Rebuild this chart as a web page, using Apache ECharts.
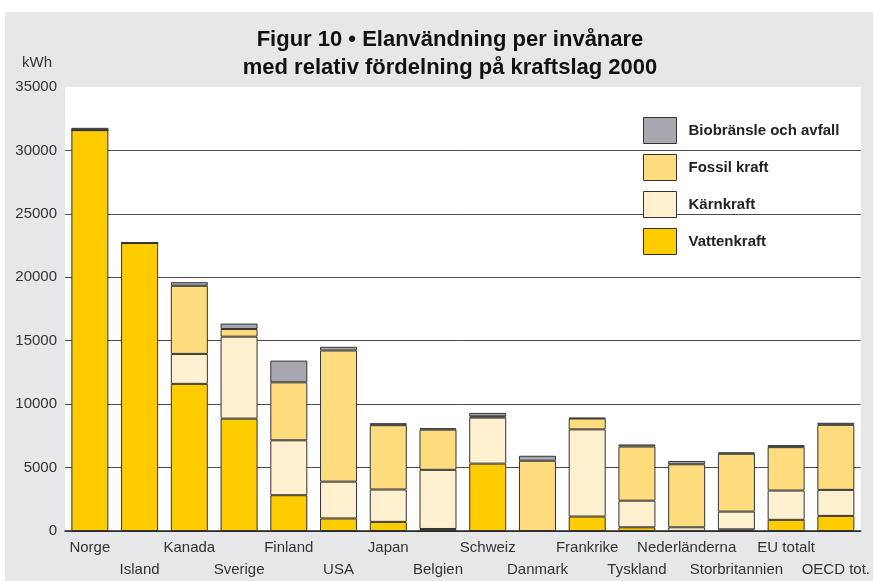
<!DOCTYPE html>
<html>
<head>
<meta charset="utf-8">
<script src="https://cdn.jsdelivr.net/npm/echarts@6/dist/echarts.min.js"></script>
<style>
  html, body { margin: 0; padding: 0; background: #fff; }
  #chart { width: 873px; height: 581px; }
</style>
</head>
<body>
<div id="chart"></div>
<script>
// kWh per invånare, år 2000
var countries = ["Norge", "Island", "Kanada", "Sverige", "Finland", "USA", "Japan", "Belgien",
  "Schweiz", "Danmark", "Frankrike", "Tyskland", "Nederländerna", "Storbritannien", "EU totalt", "OECD tot."];
var vatten  = [31600, 22700, 11600, 8860, 2820, 990, 720, 160, 5310, 0, 1140, 290, 0, 130, 880, 1190];
var karn    = [0, 0, 2360, 6460, 4330, 2900, 2550, 4660, 3630, 0, 6870, 2100, 290, 1400, 2310, 2050];
var fossil  = [0, 0, 5370, 600, 4570, 10340, 5070, 3170, 100, 5540, 860, 4270, 4970, 4560, 3420, 5130];
var bio     = [180, 0, 280, 430, 1710, 290, 160, 120, 270, 390, 50, 160, 260, 110, 160, 160];
var yTicks  = [0, 5000, 10000, 15000, 20000, 25000, 30000, 35000];

var font = '"Liberation Sans Narrow", "Liberation Sans", Arial, sans-serif';
var chart = echarts.init(document.getElementById("chart"));

function bar(name, data, color) {
  return {
    name: name,
    type: "bar",
    stack: "el",
    data: data,
    barWidth: 37,
    itemStyle: { color: color, borderColor: "#333", borderWidth: 1 }
  };
}

// split lines: all dark except the top (35000) one
var splitColors = yTicks.map(function (v, i) { return i === yTicks.length - 1 ? "rgba(0,0,0,0)" : "#4a4a4a"; });

chart.setOption({
  backgroundColor: "#fff",
  animation: false,
  graphic: [
    { type: "rect", z: -10, shape: { x: 5, y: 12, width: 868, height: 569 }, style: { fill: "#e6e7e9" } },
    { type: "text", left: 22, top: 55, style: { text: "kWh", font: "15px " + font, fill: "#333" } }
  ],
  title: {
    text: "Figur 10 • Elanvändning per invånare\nmed relativ fördelning på kraftslag 2000",
    left: 445,
    top: 21,
    textAlign: "center",
    textStyle: { fontFamily: font, fontSize: 22, fontWeight: "bold", lineHeight: 28, color: "#111" }
  },
  legend: {
    orient: "vertical",
    left: 638,
    top: 112,
    icon: "rect",
    itemWidth: 33,
    itemHeight: 26,
    itemGap: 10,
    data: ["Biobränsle och avfall", "Fossil kraft", "Kärnkraft", "Vattenkraft"],
    itemStyle: { borderColor: "#333", borderWidth: 1 },
    textStyle: { fontFamily: font, fontSize: 15, fontWeight: "bold", color: "#222", padding: [0, 0, 0, 7] }
  },
  grid: {
    left: 65, right: 11, top: 87, bottom: 45,
    show: true, backgroundColor: "#fff", borderWidth: 0
  },
  xAxis: {
    type: "category",
    data: countries,
    axisLine: { lineStyle: { color: "#222", width: 1.5 } },
    axisTick: { show: false },
    axisLabel: {
      interval: 0,
      margin: 6,
      fontFamily: font,
      fontSize: 15,
      color: "#333",
      lineHeight: 22,
      formatter: function (v, i) { return i % 2 ? "\n" + v : v; }
    }
  },
  yAxis: {
    type: "value",
    min: 0,
    max: 35000,
    interval: 5000,
    axisLine: { show: false },
    axisTick: { show: false },
    axisLabel: {
      margin: 8, fontFamily: font, fontSize: 15, color: "#333",
      formatter: function (v) { return String(v); }
    },
    splitLine: { lineStyle: { color: splitColors, width: 1 } }
  },
  series: [
    bar("Vattenkraft", vatten, "#ffcc00"),
    bar("Kärnkraft", karn, "#fff0cf"),
    bar("Fossil kraft", fossil, "#ffdc7d"),
    bar("Biobränsle och avfall", bio, "#a8a7b0")
  ]
});
</script>
</body>
</html>
